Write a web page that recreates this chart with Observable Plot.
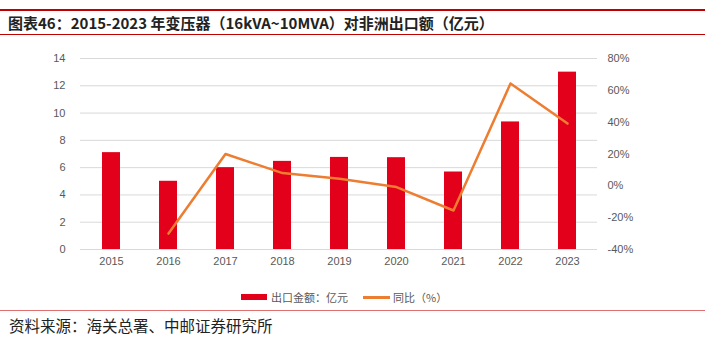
<!DOCTYPE html>
<html><head><meta charset="utf-8">
<script src="https://cdn.jsdelivr.net/npm/d3@7"></script>
<script src="https://cdn.jsdelivr.net/npm/@observablehq/plot@0.6"></script>
<style>
body{margin:0;background:#fff;}
#wrap{position:relative;width:705px;height:337px;overflow:hidden;font-family:"Noto Sans CJK SC","Noto Sans",sans-serif;}
.rule{position:absolute;left:0;width:705px;}
#title{position:absolute;left:8px;top:12px;font-size:15px;font-weight:bold;color:#222;white-space:nowrap;}
#src{position:absolute;left:9px;top:314px;font-size:15.5px;line-height:22px;color:#222;white-space:nowrap;}
#chart{position:absolute;left:0;top:40px;}
#legend{position:absolute;top:289px;left:0;width:705px;font-size:11px;color:#595959;}
.lg{position:absolute;display:flex;align-items:center;white-space:nowrap;}
</style></head>
<body><div id="wrap">
<div class="rule" style="top:9px;height:2px;background:#c00000"></div>
<div id="title">图表46：2015-2023 年变压器（16kVA~10MVA）对非洲出口额（亿元）</div>
<div class="rule" style="top:34px;height:1px;background:#c00000"></div>
<div id="chart"></div>
<div id="legend"></div>
<div class="rule" style="top:310px;height:1px;background:#e07070"></div>
<div id="src">资料来源：海关总署、中邮证券研究所</div>
</div>
<script>
const years = ["2015","2016","2017","2018","2019","2020","2021","2022","2023"];
const exportValue = [7.1, 5.0, 6.0, 6.46, 6.75, 6.73, 5.68, 9.35, 13.0];
const yoy = [null, -30, 20, 8, 4.5, -0.8, -15.5, 64.3, 39.1];
const leftTicks = [0,2,4,6,8,10,12,14];
const rightTicks = [-40,-20,0,20,40,60,80];
const seriesNames = ["出口金额：亿元","同比（%）"];

const barColor = "#e3001b", lineColor = "#ed7d31";
const toLeft = v => (v + 40) / 120 * 14;

const bars = years.map((y,i)=>({year:y, value:exportValue[i]}));
const line = years.map((y,i)=>({year:y, pct:yoy[i]})).filter(d=>d.pct!=null);

const chart = Plot.plot({
  width:705, height:245,
  marginTop:18, marginBottom:36, marginLeft:80, marginRight:108,
  style:{fontFamily:"'Liberation Sans',Arial,sans-serif", fontSize:"11px", color:"#595959", background:"transparent"},
  x:{domain:years, paddingInner:0.69, paddingOuter:0.345, align:0.5},
  y:{domain:[0,14]},
  marks:[
    Plot.gridY(leftTicks, {stroke:"#d9d9d9", strokeOpacity:1, strokeWidth:1}),
    Plot.axisY(leftTicks, {anchor:"left", tickSize:0, tickPadding:15, label:null, fill:"#595959"}),
    Plot.axisY(rightTicks.map(toLeft), {anchor:"right", tickSize:0, tickPadding:10, label:null, fill:"#595959",
      tickFormat:(d)=>Math.round(d/14*120-40)+"%"}),
    Plot.axisX({tickSize:0, tickPadding:8, label:null, fill:"#595959"}),
    Plot.barY(bars, {x:"year", y:"value", fill:barColor}),
    Plot.line(line, {x:"year", y:d=>toLeft(d.pct), stroke:lineColor, strokeWidth:2.5, curve:"linear"})
  ]
});
document.getElementById("chart").appendChild(chart);

const lg = document.getElementById("legend");
lg.innerHTML = `<div class="lg" style="left:241px"><span style="display:inline-block;width:26px;height:6px;background:${barColor};margin-right:4px"></span>${seriesNames[0]}</div>
<div class="lg" style="left:363px"><span style="display:inline-block;width:27px;height:3px;background:${lineColor};margin-right:3px"></span>${seriesNames[1]}</div>`;
</script>
</body></html>
